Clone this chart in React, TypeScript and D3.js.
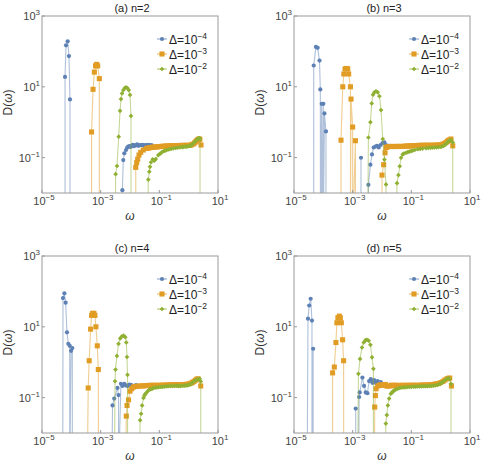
import React from "react";
import * as d3 from "d3";

type Pt = [number, number];

// [omega, D(omega)] pairs; D = 0 means the curve drops off the bottom
const aBlue: Pt[] = [
  [6.1e-5, 0], [6.1e-5, 19], [6.6e-5, 148], [7.5e-5, 193], [8.3e-5, 74], [9.0e-5, 4.4], [9.0e-5, 0],
  [5.5e-3, 0], [5.5e-3, 0.012], [5.9e-3, 0.085], [6.4e-3, 0.132], [7.3e-3, 0.164], [8.0e-3, 0.19], [8.75e-3, 0.203],
  [9.5e-3, 0.21], [1.05e-2, 0.2], [1.14e-2, 0.217], [1.25e-2, 0.23], [1.35e-2, 0.21], [1.48e-2, 0.222], [1.6e-2, 0.22],
  [1.75e-2, 0.235], [1.95e-2, 0.215], [2.19e-2, 0.227], [2.4e-2, 0.225], [2.7e-2, 0.23], [3.0e-2, 0.215], [3.3e-2, 0.225],
  [3.72e-2, 0.222], [4.1e-2, 0.23], [4.6e-2, 0.22], [5.1e-2, 0.225], [5.6e-2, 0.22],
];
const aOrange: Pt[] = [
  [4.9e-4, 0], [4.9e-4, 0.53], [5.5e-4, 8.5], [6.1e-4, 26], [6.7e-4, 39], [7.3e-4, 43], [7.9e-4, 39], [9.0e-4, 17], [9.0e-4, 0],
  [1.57e-2, 0], [1.57e-2, 0.053], [1.69e-2, 0.072], [1.83e-2, 0.09], [2.03e-2, 0.118], [2.32e-2, 0.141], [2.84e-2, 0.164],
  [3.72e-2, 0.183], [4.2e-2, 0.186], [4.8e-2, 0.19], [5.5e-2, 0.195], [6.3e-2, 0.197], [7.2e-2, 0.2], [8.1e-2, 0.2],
  [9.2e-2, 0.203], [0.105, 0.205], [0.12, 0.207], [0.135, 0.21], [0.155, 0.21], [0.179, 0.213], [0.2, 0.213], [0.23, 0.214],
  [0.26, 0.215], [0.3, 0.216], [0.343, 0.217], [0.38, 0.218], [0.43, 0.218], [0.48, 0.22], [0.55, 0.22], [0.658, 0.222],
  [0.75, 0.222], [0.85, 0.221], [0.97, 0.222], [1.11, 0.222], [1.25, 0.23], [1.44, 0.242], [1.6, 0.26], [1.75, 0.28],
  [1.88, 0.3], [2.05, 0.32], [2.25, 0.335], [2.4, 0.33], [2.64, 0.227],
];
const aGreen: Pt[] = [
  [3.2e-3, 0], [3.23e-3, 0.034], [3.6e-3, 0.058], [4.12e-3, 0.39], [4.57e-3, 2.1], [4.93e-3, 4.5], [5.33e-3, 6.5],
  [5.92e-3, 8.1], [6.61e-3, 9.2], [7.31e-3, 9.7], [8.13e-3, 9.2], [9.04e-3, 8.1], [1.0e-2, 5.9], [1.08e-2, 1.5], [1.08e-2, 0],
  [4.02e-2, 0], [4.21e-2, 0.024], [4.55e-2, 0.04], [4.81e-2, 0.055], [5.2e-2, 0.074], [5.94e-2, 0.09], [6.75e-2, 0.082],
  [7.53e-2, 0.091], [9.23e-2, 0.118], [0.105, 0.128], [0.121, 0.141], [0.14, 0.152], [0.16, 0.158], [0.179, 0.164],
  [0.21, 0.17], [0.25, 0.176], [0.3, 0.183], [0.36, 0.187], [0.42, 0.19], [0.507, 0.195], [0.6, 0.198], [0.66, 0.2],
  [0.752, 0.203], [0.85, 0.205], [0.93, 0.207], [1.05, 0.213], [1.15, 0.218], [1.25, 0.225], [1.37, 0.242], [1.55, 0.27],
  [1.78, 0.3], [1.95, 0.33], [2.13, 0.351], [2.3, 0.355], [2.44, 0.335], [2.44, 0],
];

const bBlue: Pt[] = [
  [4.7e-5, 0], [4.7e-5, 40], [5.6e-5, 134], [6.4e-5, 126], [7.4e-5, 55], [7.9e-5, 8.4], [8.0e-5, 0], [8.8e-5, 3.3],
  [8.8e-5, 0], [1.0e-4, 3.3], [1.0e-4, 0], [1.09e-4, 1.77], [1.23e-4, 0.55], [1.23e-4, 0],
  [1.92e-3, 0], [1.92e-3, 0.099], [1.92e-3, 0],
  [3.44e-3, 0], [3.44e-3, 0.017], [4.03e-3, 0.063], [4.56e-3, 0.123], [5.21e-3, 0.193], [5.96e-3, 0.206], [6.76e-3, 0.215],
  [7.73e-3, 0.193], [8.89e-3, 0.227], [1.04e-2, 0.258], [1.21e-2, 0.268], [1.37e-2, 0.227], [1.6e-2, 0.213],
  [1.87e-2, 0.215], [2.2e-2, 0.21],
];
const bOrange: Pt[] = [
  [4.0e-4, 0], [4.0e-4, 0.31], [4.6e-4, 10], [5.0e-4, 23], [5.5e-4, 32], [6.1e-4, 33], [6.8e-4, 32], [7.3e-4, 23],
  [8.4e-4, 10], [8.4e-4, 0], [8.8e-4, 4.5], [1.0e-3, 0.73], [1.0e-3, 0], [1.24e-3, 0.3], [1.24e-3, 0],
  [1.0e-2, 0], [1.0e-2, 0.032], [1.14e-2, 0.063], [1.27e-2, 0.137], [1.37e-2, 0.193], [1.5e-2, 0.2], [1.7e-2, 0.205],
  [2.03e-2, 0.206], [2.3e-2, 0.207], [2.6e-2, 0.205], [3.0e-2, 0.206], [3.4e-2, 0.208], [3.9e-2, 0.206], [4.45e-2, 0.206],
  [5.1e-2, 0.207], [5.8e-2, 0.21], [6.6e-2, 0.21], [7.5e-2, 0.212], [8.6e-2, 0.213], [9.75e-2, 0.215], [0.115, 0.216],
  [0.135, 0.218], [0.16, 0.22], [0.19, 0.222], [0.23, 0.223], [0.279, 0.224], [0.33, 0.224], [0.4, 0.224], [0.5, 0.225],
  [0.612, 0.224], [0.72, 0.226], [0.85, 0.228], [1.03, 0.231], [1.2, 0.24], [1.35, 0.25], [1.52, 0.268], [1.7, 0.29],
  [1.85, 0.305], [1.99, 0.314], [2.25, 0.335], [2.58, 0.215],
];
const bGreen: Pt[] = [
  [3.26e-3, 0], [3.44e-3, 0.37], [4.03e-3, 1.0], [4.46e-3, 3.4], [4.94e-3, 6.0], [5.51e-3, 7.0], [6.25e-3, 7.5],
  [7.14e-3, 7.0], [8.17e-3, 5.4], [9.25e-3, 2.2], [1.06e-2, 0.335], [1.21e-2, 0.088], [1.37e-2, 0.0175], [1.37e-2, 0],
  [3.0e-2, 0], [3.25e-2, 0.019], [3.62e-2, 0.032], [4.02e-2, 0.057], [4.45e-2, 0.099], [5.08e-2, 0.123], [5.6e-2, 0.13],
  [6.59e-2, 0.137], [7.5e-2, 0.142], [8.5e-2, 0.148], [9.75e-2, 0.153], [0.11, 0.158], [0.13, 0.165], [0.165, 0.172],
  [0.2, 0.175], [0.24, 0.18], [0.316, 0.185], [0.38, 0.187], [0.45, 0.19], [0.52, 0.192], [0.612, 0.193], [0.72, 0.195],
  [0.85, 0.198], [1.03, 0.2], [1.2, 0.21], [1.35, 0.225], [1.52, 0.24], [1.7, 0.27], [1.85, 0.29], [1.99, 0.3],
  [2.25, 0.314], [2.58, 0.268], [2.58, 0],
];

const cBlue: Pt[] = [
  [5.1e-5, 0], [5.2e-5, 65], [5.8e-5, 88], [6.4e-5, 48], [7.1e-5, 7.0], [7.9e-5, 3.3], [8.8e-5, 2.9], [8.8e-5, 0],
  [9.8e-5, 2.1], [1.08e-4, 2.5], [1.08e-4, 0],
  [2.4e-3, 0], [2.54e-3, 0.06], [2.9e-3, 0.094], [3.75e-3, 0.187], [4.06e-3, 0.118], [4.1e-3, 0], [4.9e-3, 0.245],
  [5.56e-3, 0.213], [6.4e-3, 0.245], [7.31e-3, 0.22], [8.28e-3, 0.211], [9.46e-3, 0.234], [1.08e-2, 0.23],
  [1.24e-2, 0.213], [1.41e-2, 0.213], [1.6e-2, 0.227], [1.83e-2, 0.213],
];
const cOrange: Pt[] = [
  [3.5e-4, 0], [3.76e-4, 0.187], [4.06e-4, 1.1], [4.54e-4, 8.6], [4.91e-4, 21], [5.31e-4, 24], [5.89e-4, 24],
  [6.37e-4, 21], [6.89e-4, 10], [7.67e-4, 2.9], [8.32e-4, 0.62], [8.4e-4, 0],
  [7.1e-3, 0], [7.48e-3, 0.03], [7.91e-3, 0.06], [8.89e-3, 0.086], [1.0e-2, 0.152], [1.14e-2, 0.178], [1.31e-2, 0.199],
  [1.5e-2, 0.205], [1.8e-2, 0.21], [2.21e-2, 0.213], [2.6e-2, 0.214], [3.0e-2, 0.215], [3.5e-2, 0.218], [4.1e-2, 0.22],
  [4.89e-2, 0.222], [5.7e-2, 0.222], [6.7e-2, 0.222], [7.8e-2, 0.223], [9.2e-2, 0.222], [0.108, 0.222], [0.125, 0.224],
  [0.145, 0.225], [0.17, 0.226], [0.2, 0.228], [0.239, 0.23], [0.28, 0.23], [0.33, 0.23], [0.38, 0.232], [0.45, 0.23],
  [0.527, 0.23], [0.62, 0.232], [0.73, 0.235], [0.86, 0.238], [1.02, 0.245], [1.2, 0.255], [1.35, 0.27], [1.52, 0.287],
  [1.7, 0.31], [1.9, 0.33], [2.08, 0.34], [2.58, 0.213],
];
const cGreen: Pt[] = [
  [2.96e-3, 0], [3.08e-3, 0.29], [3.21e-3, 0.62], [3.58e-3, 1.5], [4.06e-3, 3.3], [4.63e-3, 4.7], [5.3e-3, 5.4],
  [6.05e-3, 5.6], [6.92e-3, 5.1], [7.48e-3, 3.6], [7.91e-3, 1.4], [8.22e-3, 0.44], [8.3e-3, 0],
  [2.09e-2, 0], [2.21e-2, 0.023], [2.39e-2, 0.035], [2.59e-2, 0.06], [2.89e-2, 0.098], [3.1e-2, 0.115], [3.38e-2, 0.129],
  [3.7e-2, 0.14], [4.28e-2, 0.16], [4.7e-2, 0.168], [5.3e-2, 0.175], [5.8e-2, 0.18], [6.38e-2, 0.187], [7.2e-2, 0.19],
  [8.2e-2, 0.193], [9.4e-2, 0.196], [0.108, 0.199], [0.125, 0.202], [0.145, 0.205], [0.17, 0.207], [0.2, 0.21],
  [0.239, 0.213], [0.28, 0.214], [0.33, 0.215], [0.4, 0.215], [0.46, 0.214], [0.527, 0.213], [0.62, 0.216], [0.72, 0.218],
  [0.8, 0.22], [0.893, 0.222], [1.0, 0.228], [1.15, 0.24], [1.33, 0.262], [1.5, 0.285], [1.7, 0.305], [1.88, 0.324],
  [2.1, 0.33], [2.38, 0.34], [2.58, 0.287], [2.58, 0],
];

const dBlue: Pt[] = [
  [2.8e-5, 0], [3.0e-5, 17], [3.3e-5, 40], [3.7e-5, 62], [4.1e-5, 15], [4.1e-5, 0], [4.5e-5, 2.4], [4.5e-5, 0],
  [1.27e-3, 0], [1.27e-3, 0.049], [1.27e-3, 0], [1.6e-3, 0], [1.66e-3, 0.104], [1.74e-3, 0.14], [2.15e-3, 0.367],
  [2.45e-3, 0.214], [2.79e-3, 0.14], [3.18e-3, 0.133], [3.64e-3, 0.294], [4.15e-3, 0.331], [4.71e-3, 0.262],
  [5.38e-3, 0.312], [6.15e-3, 0.258], [7.03e-3, 0.292], [7.9e-3, 0.258], [9.1e-3, 0.276],
];
const dOrange: Pt[] = [
  [2.07e-4, 0], [2.07e-4, 0.5], [2.37e-4, 0.73], [2.69e-4, 3.6], [2.9e-4, 13], [3.14e-4, 18], [3.51e-4, 20],
  [3.79e-4, 18], [4.1e-4, 13], [4.54e-4, 4.3], [4.91e-4, 1.1], [4.95e-4, 0],
  [5.5e-3, 0], [5.64e-3, 0.054], [5.96e-3, 0.114], [6.3e-3, 0.178], [7.14e-3, 0.213], [8.2e-3, 0.225], [9.33e-3, 0.23],
  [1.1e-2, 0.22], [1.3e-2, 0.235], [1.5e-2, 0.21], [1.8e-2, 0.213], [2.1e-2, 0.225], [2.5e-2, 0.215], [2.9e-2, 0.225],
  [3.4e-2, 0.218], [3.95e-2, 0.222], [4.6e-2, 0.22], [5.4e-2, 0.224], [6.3e-2, 0.22], [7.4e-2, 0.223], [8.67e-2, 0.222],
  [0.1, 0.222], [0.12, 0.224], [0.14, 0.222], [0.165, 0.223], [0.191, 0.222], [0.22, 0.225], [0.26, 0.226], [0.3, 0.227],
  [0.36, 0.228], [0.42, 0.23], [0.5, 0.232], [0.6, 0.238], [0.711, 0.245], [0.85, 0.25], [1.0, 0.265], [1.2, 0.287],
  [1.4, 0.315], [1.65, 0.34], [1.85, 0.35], [2.04, 0.356], [2.33, 0.213],
];
const dGreen: Pt[] = [
  [1.49e-3, 0], [1.57e-3, 0.47], [1.78e-3, 1.24], [2.08e-3, 2.6], [2.38e-3, 3.6], [2.72e-3, 4.2], [3.08e-3, 4.3],
  [3.52e-3, 4.05], [4.03e-3, 3.1], [4.56e-3, 1.37], [5.09e-3, 0.65], [5.1e-3, 0],
  [1.28e-2, 0], [1.35e-2, 0.0185], [1.46e-2, 0.032], [1.58e-2, 0.06], [1.75e-2, 0.094], [2.0e-2, 0.129], [2.2e-2, 0.14],
  [2.4e-2, 0.15], [2.61e-2, 0.16], [2.9e-2, 0.168], [3.3e-2, 0.175], [3.86e-2, 0.187], [4.4e-2, 0.19], [5.2e-2, 0.193],
  [6.0e-2, 0.195], [7.1e-2, 0.197], [8.47e-2, 0.199], [0.1, 0.2], [0.12, 0.203], [0.14, 0.204], [0.16, 0.206],
  [0.187, 0.207], [0.22, 0.208], [0.26, 0.21], [0.3, 0.211], [0.35, 0.212], [0.41, 0.213], [0.48, 0.215], [0.56, 0.218],
  [0.66, 0.222], [0.793, 0.23], [0.95, 0.245], [1.05, 0.26], [1.17, 0.274], [1.35, 0.3], [1.61, 0.34], [1.8, 0.35],
  [1.99, 0.34], [2.25, 0.245], [2.25, 0],
];

const panelTitles = ["(a) n=2", "(b) n=3", "(c) n=4", "(d) n=5"];
const legendExponents = ["\u22124", "\u22123", "\u22122"];
const xTickExps = [-5, -3, -1, 1];
const yTickExps = [3, 1, -1];

const colors = ["#5E81B5", "#E19C24", "#8FB032"];
// circle, square, diamond (a square turned by 45 degrees)
const symbols = [d3.symbolCircle, d3.symbolSquare, d3.symbolSquare];
const symbolSizes = [14, 26, 11];
const symbolTurn = [0, 0, 45];

const panelData = [
  [aBlue, aOrange, aGreen],
  [bBlue, bOrange, bGreen],
  [cBlue, cOrange, cGreen],
  [dBlue, dOrange, dGreen],
];
const offsets: [number, number][] = [[0, 0], [252, 0], [0, 240], [252, 240]];

const L = 42, R = 218, T = 16, B = 193;
const font = "'Liberation Sans', Arial, sans-serif";

const Pow = ({ exp, x, y, anchor }: { exp: number; x: number; y: number; anchor: string }) => (
  <text x={x} y={y} textAnchor={anchor} fontSize={11} fill="#444" fontFamily={font}>
    10
    <tspan dy={-5} fontSize={8}>{exp < 0 ? "\u2212" + Math.abs(exp) : String(exp)}</tspan>
  </text>
);

const Panel = ({ idx }: { idx: number }) => {
  const [dx, dy] = offsets[idx];
  const x = d3.scaleLog().domain([1e-5, 10]).range([L, R]);
  const y = d3.scaleLog().domain([1e-2, 1e3]).range([B, T]);
  const yOf = (v: number) => (v > 0 ? y(v) : B + 40);
  const line = d3.line<Pt>().x((p) => x(p[0])).y((p) => yOf(p[1]));
  const clipId = `clip-${idx}`;
  return (
    <g transform={`translate(${dx},${dy})`}>
      <defs>
        <clipPath id={clipId}>
          <rect x={L} y={T} width={R - L} height={B - T} />
        </clipPath>
      </defs>
      <text x={(L + R) / 2 + 2} y={12} textAnchor="middle" fontSize={11} fill="#222" fontFamily={font}>
        {panelTitles[idx]}
      </text>
      <g clipPath={`url(#${clipId})`}>
        {panelData[idx].map((s, i) => (
          <g key={i}>
            <path d={line(s) || ""} fill="none" stroke={colors[i]} strokeOpacity={0.5} strokeWidth={1.1} />
            {s
              .filter((p) => p[1] > 0)
              .map((p, j) => (
                <path
                  key={j}
                  transform={`translate(${x(p[0])},${y(p[1])}) rotate(${symbolTurn[i]})`}
                  d={d3.symbol().type(symbols[i]).size(symbolSizes[i])() || ""}
                  fill={colors[i]}
                />
              ))}
          </g>
        ))}
      </g>
      <rect x={L} y={T} width={R - L} height={B - T} fill="none" stroke="#9a9a9a" strokeWidth={1} />
      {xTickExps.map((e) => (
        <g key={e}>
          <line x1={x(10 ** e)} x2={x(10 ** e)} y1={B} y2={B - 3} stroke="#9a9a9a" />
          <Pow exp={e} x={x(10 ** e) + 2} y={205} anchor="middle" />
        </g>
      ))}
      {yTickExps.map((e) => (
        <g key={e}>
          <line x1={L} x2={L + 3} y1={y(10 ** e)} y2={y(10 ** e)} stroke="#9a9a9a" />
          <Pow exp={e} x={40} y={y(10 ** e) + 4} anchor="end" />
        </g>
      ))}
      <text x={(L + R) / 2} y={220} textAnchor="middle" fontSize={12} fontStyle="italic" fill="#333" fontFamily={font}>
        ω
      </text>
      <text
        transform={`translate(12,${(T + B) / 2 - 2}) rotate(-90)`}
        textAnchor="middle"
        fontSize={12}
        fill="#333"
        fontFamily={font}
      >
        D(<tspan fontStyle="italic">ω</tspan>)
      </text>
      {legendExponents.map((ex, i) => {
        const ly = 39 + i * 15;
        return (
          <g key={i}>
            <line x1={157} x2={167} y1={ly} y2={ly} stroke={colors[i]} strokeOpacity={0.7} strokeWidth={1.1} />
            <path
              transform={`translate(162,${ly}) rotate(${symbolTurn[i]})`}
              d={d3.symbol().type(symbols[i]).size(symbolSizes[i])() || ""}
              fill={colors[i]}
            />
            <text x={169} y={ly + 4.5} fontSize={12} fill="#222" fontFamily={font}>
              Δ=10
              <tspan dy={-5} fontSize={8.5}>{ex}</tspan>
            </text>
          </g>
        );
      })}
    </g>
  );
};

export default function App() {
  return (
    <svg width={491} height={465} style={{ position: "absolute", left: 0, top: 0, background: "#fff" }}>
      {[0, 1, 2, 3].map((i) => (
        <Panel key={i} idx={i} />
      ))}
    </svg>
  );
}
